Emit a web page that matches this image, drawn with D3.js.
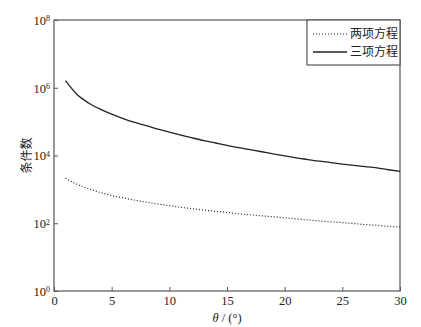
<!DOCTYPE html>
<html>
<head>
<meta charset="utf-8">
<script src="https://cdn.jsdelivr.net/npm/d3@7"></script>
<style>
  body { margin: 0; background: #fff; }
</style>
</head>
<body>
<svg id="chart"></svg>
<script>
// angle theta in degrees
const theta = d3.range(1, 31);
// condition number, two-term equation (dotted)
const twoTerm = [2140, 1410, 1050, 810, 660, 560, 480, 420, 370, 330,
  295, 270, 245, 225, 210, 190, 178, 166, 155, 145,
  135, 126, 117, 110, 105, 98, 91, 87, 81, 78];
// condition number, three-term equation (solid)
const threeTerm = [1.62e6, 6.3e5, 3.55e5, 2.34e5, 1.66e5, 1.23e5, 9.5e4, 7.6e4, 6.0e4, 4.9e4,
  4.0e4, 3.3e4, 2.75e4, 2.34e4, 2.0e4, 1.7e4, 1.48e4, 1.29e4, 1.12e4, 9.8e3,
  8.5e3, 7.6e3, 6.8e3, 6.2e3, 5.6e3, 5.1e3, 4.7e3, 4.3e3, 3.8e3, 3.4e3];
const xTicks = [0, 5, 10, 15, 20, 25, 30];
const yTicks = [1, 1e2, 1e4, 1e6, 1e8];
const seriesNames = ['两项方程', '三项方程'];

const W = 421, H = 327;
const margin = { top: 20, right: 21, bottom: 36, left: 54 };
const width = W - margin.left - margin.right;
const height = H - margin.top - margin.bottom;
const serif = '"Liberation Serif", "Times New Roman", serif';
const cjk = '"Noto Sans CJK SC", sans-serif';

const svg = d3.select('#chart').attr('width', W).attr('height', H);
const g = svg.append('g').attr('transform', `translate(${margin.left},${margin.top})`);

const x = d3.scaleLinear().domain([0, 30]).range([0, width]);
const y = d3.scaleLog().domain([1, 1e8]).range([height, 0]);

const axisColor = '#555';

// frame
g.append('rect')
  .attr('width', width).attr('height', height)
  .attr('fill', 'none').attr('stroke', axisColor).attr('stroke-width', 1.2);

// x axis
const xAxis = g.append('g')
  .attr('transform', `translate(0,${height})`)
  .call(d3.axisBottom(x).tickValues(xTicks).tickSizeInner(-4).tickSizeOuter(0).tickPadding(5));
xAxis.select('.domain').remove();
xAxis.selectAll('line').attr('stroke', axisColor);
xAxis.selectAll('text').attr('font-size', 12.5).attr('fill', '#222').attr('font-family', serif);

// y axis
const yAxis = g.append('g')
  .call(d3.axisLeft(y).tickValues(yTicks).tickSizeInner(-4).tickSizeOuter(0).tickFormat(''));
yAxis.select('.domain').remove();
yAxis.selectAll('line').attr('stroke', axisColor);
yAxis.selectAll('.tick').each(function (d) {
  const t = d3.select(this).append('text')
    .attr('x', -4).attr('dy', '0.35em')
    .attr('text-anchor', 'end').attr('font-size', 12.5).attr('fill', '#222')
    .attr('font-family', serif);
  t.append('tspan').text('10');
  t.append('tspan').attr('dy', '-0.45em').attr('font-size', 8).text(Math.round(Math.log10(d)));
});

// lines
const line = d3.line().x(d => x(d[0])).y(d => y(d[1])).curve(d3.curveMonotoneX);

g.append('path')
  .datum(theta.map((t, i) => [t, twoTerm[i]]))
  .attr('d', line).attr('fill', 'none')
  .attr('stroke', '#222').attr('stroke-width', 1.2).attr('stroke-dasharray', '1,2');

g.append('path')
  .datum(theta.map((t, i) => [t, threeTerm[i]]))
  .attr('d', line).attr('fill', 'none')
  .attr('stroke', '#222').attr('stroke-width', 1.3);

// legend
const legend = g.append('g').attr('transform', `translate(${width - 93},0)`);
legend.append('rect')
  .attr('width', 93).attr('height', 45)
  .attr('fill', '#fff').attr('stroke', axisColor).attr('stroke-width', 1.2);
seriesNames.forEach((name, i) => {
  const ly = 14 + i * 18;
  legend.append('line')
    .attr('x1', 6).attr('x2', 40).attr('y1', ly).attr('y2', ly)
    .attr('stroke', '#222').attr('stroke-width', i === 0 ? 1.2 : 1.3)
    .attr('stroke-dasharray', i === 0 ? '1,2' : null);
  legend.append('text')
    .attr('x', 43).attr('y', ly).attr('dy', '0.35em')
    .attr('font-size', 12).attr('font-family', cjk).attr('fill', '#222').text(name);
});

// axis titles
svg.append('text')
  .attr('transform', `translate(27,${margin.top + height / 2}) rotate(-90)`)
  .attr('text-anchor', 'middle').attr('dy', '0.35em')
  .attr('font-size', 12).attr('font-family', cjk).attr('fill', '#222').text('条件数');

const xt = svg.append('text')
  .attr('x', margin.left + width / 2).attr('y', 322)
  .attr('text-anchor', 'middle').attr('font-size', 12.5)
  .attr('font-family', serif).attr('fill', '#222');
xt.append('tspan').attr('font-style', 'italic').text('θ');
xt.append('tspan').text(' / (°)');
</script>
</body>
</html>
